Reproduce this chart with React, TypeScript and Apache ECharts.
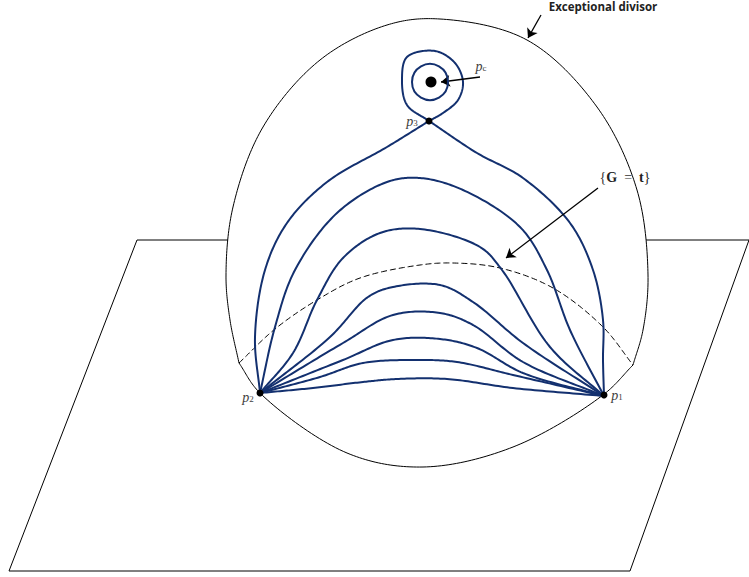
import React, { useEffect, useRef } from "react";
import * as echarts from "echarts";

type P = [number, number];

const planeLeft: P[] = [[228, 240], [137, 240], [9, 571], [630, 571], [749, 240], [646, 240]];
const divisorUpper: P[] = [[239, 363], [230, 320], [226, 275], [233, 207], [263, 127], [320, 60], [387, 25], [440, 19], [527, 40], [597, 107], [637, 190], [648, 275], [643, 330], [633, 365]];
const divisorLower: P[] = [[239, 363], [260, 393], [347, 453], [423, 467], [513, 447], [603, 395], [633, 365]];
const dashedArc: P[] = [[239, 363], [275, 329], [317, 300], [360, 278], [420, 265], [453, 263], [500, 268], [553, 288], [603, 327], [633, 365]];

const level1: P[] = [[260, 393], [313, 388], [363, 382], [397, 379], [447, 379], [513, 388], [604, 396]];
const level2: P[] = [[260, 393], [320, 377], [363, 363], [417, 360], [457, 362], [513, 375], [604, 396]];
const level3: P[] = [[260, 393], [343, 360], [393, 340], [440, 339], [477, 348], [523, 373], [604, 396]];
const level4: P[] = [[260, 393], [343, 343], [393, 315], [440, 313], [473, 325], [523, 362], [604, 396]];
const level5: P[] = [[260, 393], [330, 337], [368, 297], [393, 287], [440, 285], [473, 302], [523, 343], [604, 396]];
const level6: P[] = [[260, 393], [293, 353], [317, 300], [343, 258], [380, 233], [420, 229], [480, 247], [502, 270], [550, 347], [604, 396]];
const level7: P[] = [[260, 393], [275, 327], [295, 270], [337, 213], [387, 182], [420, 178], [463, 190], [520, 227], [547, 270], [570, 330], [604, 396]];
const level8Left: P[] = [[260, 393], [255, 337], [265, 270], [287, 223], [327, 182], [387, 147], [429, 121]];
const level8Right: P[] = [[429, 121], [477, 153], [523, 178], [570, 223], [593, 270], [603, 320], [603, 360], [604, 396]];
const loopCurve: P[] = [[429, 121], [407, 105], [402, 80], [407, 57], [435, 51], [455, 63], [463, 82], [458, 100], [443, 113], [429, 121]];
const innerRing: P[] = [[430, 82]];
const centerPoint: P[] = [[431, 82]];
const basePoints: P[] = [[260, 393], [604, 395], [429, 121]];

const arrowSegments: P[][] = [
  [[541, 15], [528, 38]],
  [[480, 77], [441, 82]],
  [[598, 188], [506, 258]],
];

const blueCurves = [level1, level2, level3, level4, level5, level6, level7, level8Left, level8Right, loopCurve];
const NAVY = "#13306f";

const mathFont = "Liberation Serif";
const subRich = {
  p: { fontFamily: mathFont, fontStyle: "italic", fontSize: 14, fill: "#404040" },
  s: { fontFamily: mathFont, fontSize: 9, fill: "#404040", padding: [4, 0, 0, 0] },
  g: { fontFamily: mathFont, fontSize: 14, fill: "#333333" },
  b: { fontFamily: mathFont, fontWeight: "bold", fontSize: 14, fill: "#222222" },
};
const textItems: { pos: P; text: string; rich?: boolean }[] = [
  { pos: [603, 6], text: "Exceptional divisor" },
  { pos: [481, 66], text: "{p|p}{s|c}", rich: true },
  { pos: [412, 121], text: "{p|p}{s|3}", rich: true },
  { pos: [248, 397], text: "{p|p}{s|2}", rich: true },
  { pos: [617, 395], text: "{p|p}{s|1}", rich: true },
  { pos: [625, 177], text: "{g|{}{b|G}{g|  =  }{b|t}{g|}}", rich: true },
];

// Centripetal Catmull-Rom through the given pixel points, so the curve passes through each read point.
function spline(pts: number[][]): number[][] {
  const out: number[][] = [pts[0]];
  const at = (i: number) => {
    if (i < 0) return [2 * pts[0][0] - pts[1][0], 2 * pts[0][1] - pts[1][1]];
    if (i >= pts.length) {
      const n = pts.length - 1;
      return [2 * pts[n][0] - pts[n - 1][0], 2 * pts[n][1] - pts[n - 1][1]];
    }
    return pts[i];
  };
  const tj = (t: number, a: number[], b: number[]) => t + Math.pow(Math.hypot(b[0] - a[0], b[1] - a[1]), 0.5);
  const mix = (a: number[], b: number[], ta: number, tb: number, t: number) => {
    const k = (t - ta) / (tb - ta);
    return [a[0] + (b[0] - a[0]) * k, a[1] + (b[1] - a[1]) * k];
  };
  for (let i = 0; i < pts.length - 1; i++) {
    const [p0, p1, p2, p3] = [at(i - 1), at(i), at(i + 1), at(i + 2)];
    const t0 = 0;
    const t1 = tj(t0, p0, p1);
    const t2 = tj(t1, p1, p2);
    const t3 = tj(t2, p2, p3);
    for (let s = 1; s <= 24; s++) {
      const t = t1 + ((t2 - t1) * s) / 24;
      const a1 = mix(p0, p1, t0, t1, t);
      const a2 = mix(p1, p2, t1, t2, t);
      const a3 = mix(p2, p3, t2, t3, t);
      const b1 = mix(a1, a2, t0, t2, t);
      const b2 = mix(a2, a3, t1, t3, t);
      out.push(mix(b1, b2, t1, t2, t));
    }
  }
  return out;
}

export default function App() {
  const ref = useRef<HTMLDivElement>(null);
  useEffect(() => {
    const chart = echarts.init(ref.current!, undefined, { renderer: "svg", width: 749, height: 577 });
    const curve = (data: P[], color: string, width: number, dash: any = "solid") => ({
      type: "custom",
      data,
      silent: true,
      clip: false,
      renderItem: (params: any, api: any) => {
        if (params.dataIndex !== 0) return null;
        const px = data.map((p) => api.coord(p));
        return {
          type: "polyline",
          shape: { points: spline(px) },
          style: { fill: "none", stroke: color, lineWidth: width, lineDash: dash === "solid" ? undefined : dash, lineJoin: "round" },
        };
      },
    });
    chart.setOption({
      animation: false,
      backgroundColor: "#ffffff",
      grid: { left: 0, right: 0, top: 0, bottom: 0 },
      xAxis: { type: "value", min: 0, max: 749, show: false },
      yAxis: { type: "value", min: 0, max: 577, inverse: true, show: false },
      graphic: textItems.map((t) => ({
        type: "text",
        x: t.pos[0],
        y: t.pos[1],
        z: 50,
        silent: true,
        style: {
          text: t.text,
          align: "center",
          verticalAlign: "middle",
          fill: "#222222",
          fontFamily: t.rich ? mathFont : "Open Sans",
          fontWeight: t.rich ? "normal" : "bold",
          fontSize: t.rich ? 14 : 11.5,
          rich: t.rich ? subRich : undefined,
        },
      })),
      series: [
        {
          type: "line",
          data: planeLeft,
          symbol: "none",
          silent: true,
          lineStyle: { color: "#000", width: 1 },
        },
        curve(divisorUpper, "#000", 1),
        curve(divisorLower, "#000", 1),
        curve(dashedArc, "#000", 1, [6, 3]),
        ...blueCurves.map((c) => curve(c, NAVY, 2)),
        {
          type: "scatter",
          data: innerRing,
          symbol: "circle",
          symbolSize: 36,
          silent: true,
          itemStyle: { color: "rgba(0,0,0,0)", borderColor: NAVY, borderWidth: 2, opacity: 1 },
        },
        { type: "scatter", data: centerPoint, symbolSize: 11, silent: true, itemStyle: { color: "#000", opacity: 1 } },
        { type: "scatter", data: basePoints, symbolSize: 7, silent: true, itemStyle: { color: "#000", opacity: 1 } },
        {
          type: "lines",
          coordinateSystem: "cartesian2d",
          data: arrowSegments.map((coords) => ({ coords })),
          symbol: ["none", "arrow"],
          symbolSize: 9,
          silent: true,
          lineStyle: { color: "#000", width: 1.3, opacity: 1, curveness: 0 },
        },
      ],
    });
    return () => chart.dispose();
  }, []);
  return <div ref={ref} style={{ position: "absolute", left: 0, top: 0, width: 749, height: 577 }} />;
}
